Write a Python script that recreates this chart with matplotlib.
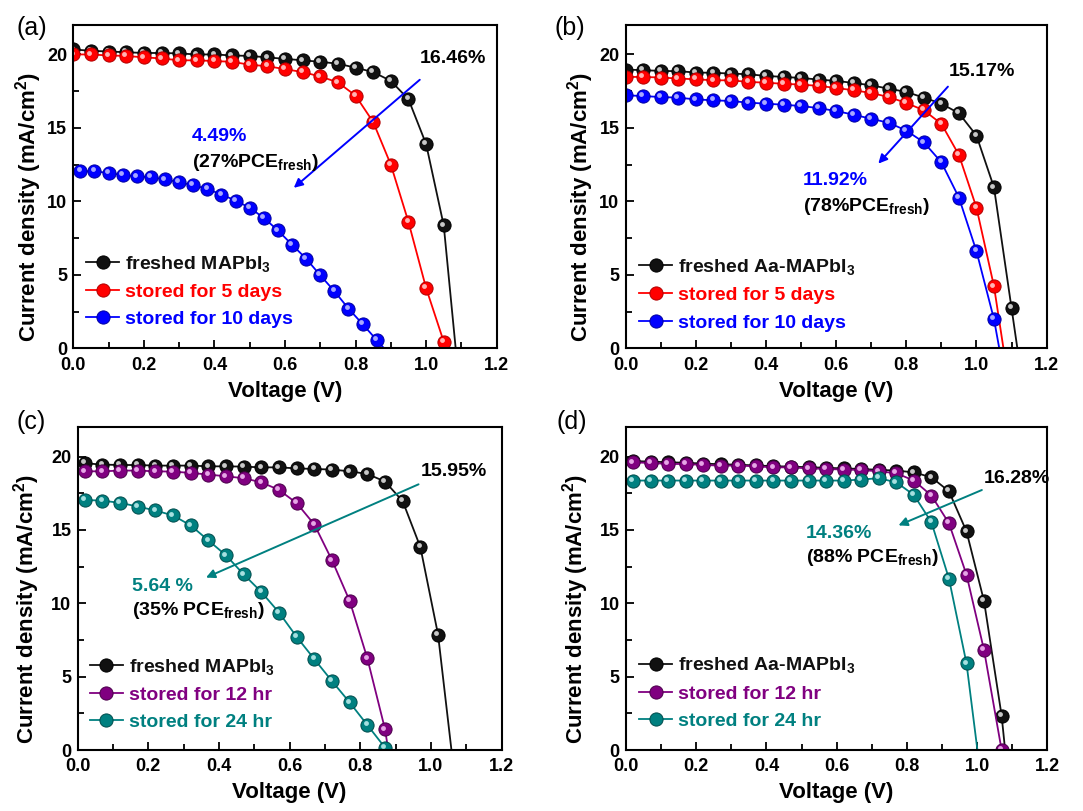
import matplotlib
matplotlib.use('Agg')
import matplotlib.pyplot as plt
from matplotlib.ticker import MultipleLocator
from matplotlib.transforms import offset_copy

plt.rcParams['font.family'] = ['Liberation Sans', 'DejaVu Sans']
plt.rcParams['font.weight'] = 'bold'
plt.rcParams['axes.labelweight'] = 'bold'
plt.rcParams['mathtext.fontset'] = 'custom'
plt.rcParams['mathtext.rm'] = 'Liberation Sans:bold'
plt.rcParams['mathtext.bf'] = 'Liberation Sans:bold'
plt.rcParams['mathtext.default'] = 'bf'

# ---- panel (a): MAPbI3, days ----
a_v = [0.00, 0.05, 0.10, 0.15, 0.20, 0.25, 0.30, 0.35, 0.40, 0.45, 0.50, 0.55,
       0.60, 0.65, 0.70, 0.75, 0.80, 0.85, 0.90, 0.95, 1.00, 1.05, 1.10]
a_fresh = [20.34, 20.25, 20.2, 20.15, 20.1, 20.1, 20.07, 20.0, 20.0, 19.93, 19.9, 19.8,
           19.7, 19.6, 19.5, 19.37, 19.1, 18.8, 18.2, 16.95, 13.9, 8.36, -4.0]
a_5d = [20.0, 20.0, 19.93, 19.9, 19.8, 19.73, 19.6, 19.6, 19.55, 19.5, 19.3, 19.2,
        19.0, 18.8, 18.5, 18.1, 17.2, 15.4, 12.5, 8.6, 4.1, 0.45, -2.8]
a_10d_v = [0.02, 0.06, 0.10, 0.14, 0.18, 0.22, 0.26, 0.30, 0.34, 0.38, 0.42, 0.46,
           0.50, 0.54, 0.58, 0.62, 0.66, 0.70, 0.74, 0.78, 0.82, 0.86, 0.94]
a_10d = [12.05, 12.05, 11.93, 11.8, 11.7, 11.64, 11.5, 11.3, 11.1, 10.85, 10.46, 10.06,
         9.56, 8.88, 8.02, 7.05, 6.1, 4.97, 3.89, 2.7, 1.65, 0.56, -1.6]

# ---- panel (b): Aa-MAPbI3, days ----
b_fresh_v = [0.00, 0.05, 0.10, 0.15, 0.20, 0.25, 0.30, 0.35, 0.40, 0.45, 0.50, 0.55,
             0.60, 0.65, 0.70, 0.75, 0.80, 0.85, 0.90, 0.95, 1.00, 1.05, 1.10, 1.15]
b_fresh = [18.97, 18.93, 18.88, 18.86, 18.77, 18.75, 18.7, 18.65, 18.54, 18.47, 18.4, 18.29,
           18.2, 18.06, 17.9, 17.67, 17.45, 17.06, 16.65, 16.0, 14.48, 10.95, 2.74, -5.5]
b_v = [0.00, 0.05, 0.10, 0.15, 0.20, 0.25, 0.30, 0.35, 0.40, 0.45, 0.50, 0.55,
       0.60, 0.65, 0.70, 0.75, 0.80, 0.85, 0.90, 0.95, 1.00, 1.05, 1.10]
b_5d = [18.47, 18.47, 18.43, 18.36, 18.31, 18.24, 18.24, 18.13, 18.08, 18.0, 17.95, 17.86,
        17.72, 17.56, 17.38, 17.1, 16.7, 16.2, 15.28, 13.16, 9.58, 4.22, -3.6]
b_10d = [17.22, 17.17, 17.1, 17.06, 16.94, 16.88, 16.83, 16.72, 16.65, 16.58, 16.49, 16.35,
         16.15, 15.9, 15.62, 15.35, 14.82, 14.02, 12.66, 10.26, 6.61, 1.98, -4.6]

# ---- panel (c): MAPbI3, hours ----
c_fresh_v = [0.02, 0.07, 0.12, 0.17, 0.22, 0.27, 0.32, 0.37, 0.42, 0.47, 0.52, 0.57,
             0.62, 0.67, 0.72, 0.77, 0.82, 0.87, 0.92, 0.97, 1.02, 1.07]
c_fresh = [19.55, 19.46, 19.43, 19.43, 19.39, 19.39, 19.39, 19.34, 19.34, 19.32, 19.27, 19.27,
           19.2, 19.16, 19.12, 19.0, 18.82, 18.3, 16.96, 13.83, 7.87, -2.5]
c_v = [0.02, 0.07, 0.12, 0.17, 0.22, 0.27, 0.32, 0.37, 0.42, 0.47, 0.52, 0.57,
       0.62, 0.67, 0.72, 0.77, 0.82, 0.87, 0.92]
c_12h = [19.0, 19.0, 19.05, 19.05, 19.0, 18.98, 18.89, 18.78, 18.66, 18.53, 18.25, 17.73,
         16.83, 15.37, 12.93, 10.16, 6.24, 1.41, -6.4]
c_24h = [17.05, 17.0, 16.85, 16.6, 16.33, 15.99, 15.31, 14.29, 13.27, 11.97, 10.77, 9.37,
         7.71, 6.19, 4.69, 3.24, 1.7, 0.16, -1.44]

# ---- panel (d): Aa-MAPbI3, hours ----
d_fresh_v = [0.02, 0.07, 0.12, 0.17, 0.22, 0.27, 0.32, 0.37, 0.42, 0.47, 0.52, 0.57,
             0.62, 0.67, 0.72, 0.77, 0.82, 0.87, 0.92, 0.97, 1.02, 1.07, 1.12]
d_fresh = [19.7, 19.66, 19.62, 19.58, 19.53, 19.48, 19.45, 19.4, 19.35, 19.32, 19.28, 19.24,
           19.2, 19.16, 19.1, 19.05, 18.93, 18.59, 17.64, 14.9, 10.14, 2.34, -9.4]
d_12h_v = [0.02, 0.07, 0.12, 0.17, 0.22, 0.27, 0.32, 0.37, 0.42, 0.47, 0.52, 0.57,
           0.62, 0.67, 0.72, 0.77, 0.82, 0.87, 0.92, 0.97, 1.02, 1.07]
d_12h = [19.61, 19.57, 19.5, 19.5, 19.43, 19.39, 19.39, 19.34, 19.27, 19.27, 19.2, 19.16,
         19.12, 19.09, 19.0, 18.87, 18.37, 17.35, 15.46, 11.95, 6.8, 0.0]
d_24h_v = [0.02, 0.07, 0.12, 0.17, 0.22, 0.27, 0.32, 0.37, 0.42, 0.47, 0.52, 0.57,
           0.62, 0.67, 0.72, 0.77, 0.82, 0.87, 0.92, 0.97, 1.02]
d_24h = [18.37, 18.37, 18.37, 18.37, 18.37, 18.37, 18.37, 18.37, 18.37, 18.37, 18.37, 18.37,
         18.37, 18.44, 18.53, 18.25, 17.39, 15.53, 11.68, 5.9, -3.6]

# colour sets: face, edge, highlight
BLACK = ('#111111', '#000000', '#c8c8c8')
RED = ('#ff0000', '#b00000', '#ffb4b4')
BLUE = ('#0000ff', '#0000a0', '#a8a8ff')
PURPLE = ('#800080', '#4a004a', '#e6a6e6')
TEAL = ('#008080', '#004c4c', '#a6e0e0')

W, H = 1083, 811

panels = [
    dict(tag='(a)', tag_px=(17, 28), rect=[0.0677, 0.5705, 0.3909, 0.3986], ypad=2,
         series=[(a_v, a_fresh, BLACK, r'freshed MAPbI$_3$'),
                 (a_v, a_5d, RED, 'stored for 5 days'),
                 (a_10d_v, a_10d, BLUE, 'stored for 10 days')],
         top=('16.46%', 0.983, 19.43), arrow=((0.988, 18.4), (0.619, 10.8)),
         low=('4.49%', 0.336, 14.12), pce=(r'(27%PCE$_{fresh}$)', 12.32),
         acol=BLUE[0], leg=(0.031, 0.062)),
    dict(tag='(b)', tag_px=(554, 28), rect=[0.5777, 0.5705, 0.3887, 0.3986], ypad=2,
         series=[(b_fresh_v, b_fresh, BLACK, r'freshed Aa-MAPbI$_3$'),
                 (b_v, b_5d, RED, 'stored for 5 days'),
                 (b_v, b_10d, BLUE, 'stored for 10 days')],
         top=('15.17%', 0.92, 18.54), arrow=((0.924, 17.95), (0.715, 12.43)),
         low=('11.92%', 0.506, 11.1), pce=(r'(78%PCE$_{fresh}$)', 9.35),
         acol=BLUE[0], leg=(0.032, 0.052)),
    dict(tag='(c)', tag_px=(16, 422), rect=[0.0717, 0.0752, 0.3915, 0.3979], ypad=7,
         series=[(c_fresh_v, c_fresh, BLACK, r'freshed MAPbI$_3$'),
                 (c_v, c_12h, PURPLE, 'stored for 12 hr'),
                 (c_v, c_24h, TEAL, 'stored for 24 hr')],
         top=('15.95%', 0.971, 18.7), arrow=((0.972, 18.19), (0.356, 11.68)),
         low=('5.64 %', 0.153, 10.82), pce=(r'(35% PCE$_{fresh}$)', 9.18),
         acol=TEAL[0], leg=(0.029, 0.058)),
    dict(tag='(d)', tag_px=(556, 422), rect=[0.578, 0.0752, 0.389, 0.3979], ypad=6,
         series=[(d_fresh_v, d_fresh, BLACK, r'freshed Aa-MAPbI$_3$'),
                 (d_12h_v, d_12h, PURPLE, 'stored for 12 hr'),
                 (d_24h_v, d_24h, TEAL, 'stored for 24 hr')],
         top=('16.28%', 1.018, 18.19), arrow=((1.021, 17.8), (0.769, 15.24)),
         low=('14.36%', 0.512, 14.44), pce=(r'(88% PCE$_{fresh}$)', 12.81),
         acol=TEAL[0], leg=(0.031, 0.062)),
]

fig = plt.figure(figsize=(W / 100, H / 100), dpi=100)

for p in panels:
    ax = fig.add_axes(p['rect'])
    hl_tr = offset_copy(ax.transData, fig=fig, x=-1.3, y=1.3, units='points')
    for v, j, (fc, ec, hc), label in p['series']:
        ax.plot(v, j, '-o', color=fc, lw=1.3, ms=9.5, mfc=fc, mec=ec, mew=0.7, label=label)
        ax.plot(v, j, 'o', ms=3.5, color=hc, mec='none', transform=hl_tr)

    ax.set_xlim(0, 1.2)
    ax.set_ylim(0, 22)
    ax.xaxis.set_major_locator(MultipleLocator(0.2))
    ax.xaxis.set_minor_locator(MultipleLocator(0.1))
    ax.yaxis.set_major_locator(MultipleLocator(5))
    ax.yaxis.set_minor_locator(MultipleLocator(2.5))
    ax.tick_params(which='both', direction='in', labelsize=13, width=1.3)
    ax.tick_params(axis='x', which='both', pad=6)
    ax.tick_params(axis='y', which='both', pad=4.5)
    ax.tick_params(which='major', length=6)
    ax.tick_params(which='minor', length=4)
    for lbl in ax.get_xticklabels() + ax.get_yticklabels():
        lbl.set_fontweight('bold')
    for s in ax.spines.values():
        s.set_linewidth(1.5)
    ax.set_xlabel('Voltage (V)', fontsize=16, fontweight='bold', labelpad=5)
    ax.set_ylabel(r'Current density (mA/cm$^2$)', fontsize=16, fontweight='bold',
                  labelpad=p['ypad'])
    ax.yaxis.label.set_y(0.437)

    ax.legend(loc='lower left', bbox_to_anchor=p['leg'], frameon=False, fontsize=14,
              handlelength=1.7, handletextpad=0.3, labelspacing=0.5, borderpad=0,
              borderaxespad=0, labelcolor='linecolor')

    txt, tx, ty = p['top']
    ax.text(tx, ty, txt, fontsize=14, color='black')
    (x0, y0), (x1, y1) = p['arrow']
    ax.annotate('', xy=(x1, y1), xytext=(x0, y0),
                arrowprops=dict(arrowstyle='-|>', color=p['acol'], lw=1.4, mutation_scale=13))
    ltxt, lx, ly = p['low']
    ax.text(lx, ly, ltxt, fontsize=14, color=p['acol'])
    ptxt, py = p['pce']
    ax.text(lx, py, ptxt, fontsize=14, color='black')

    px, py_ = p['tag_px']
    fig.text(px / W, 1 - py_ / H, p['tag'], fontsize=18, fontweight='normal', va='center')

fig.savefig('out.png', dpi=100)
